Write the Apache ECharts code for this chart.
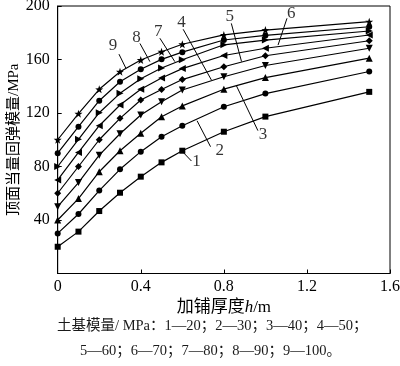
<!DOCTYPE html>
<html>
<head>
<meta charset="utf-8">
<script src="https://cdn.jsdelivr.net/npm/echarts@6/dist/echarts.min.js"></script>
<style>html,body{margin:0;padding:0;background:#fff;}#c{width:400px;height:366px;}</style>
</head>
<body>
<div id="c"></div>
<script>
// thickness h (m)
const thickness = [0, 0.1, 0.2, 0.3, 0.4, 0.5, 0.6, 0.8, 1.0, 1.5];
// equivalent modulus (MPa) for subgrade modulus 20..100
const m20  = [20, 31.3, 46.7, 60.4, 72.4, 83.1, 91.8, 106, 117.3, 135.8];
const m30  = [30, 44.5, 62, 77.9, 91.1, 102.3, 110.5, 124.7, 134.5, 151];
const m40  = [40, 56, 76.1, 91.8, 104.8, 117.2, 125.3, 137.8, 146.5, 161];
const m50  = [50, 68, 88.5, 104.5, 118.5, 128.4, 137.2, 147.1, 155.5, 168.4];
const m60  = [60, 80, 100, 116, 129.7, 137.6, 145, 154.6, 162.8, 174];
const m70  = [70, 90.5, 110.5, 126, 137.7, 146.2, 153.2, 163, 168.4, 178.3];
const m80  = [80, 100.3, 120.2, 134.7, 145.6, 153.6, 159.8, 171, 174.5, 181.3];
const m90  = [90, 109.8, 129.2, 143.4, 152.7, 160.1, 165.5, 174.6, 178, 184.5];
const m100 = [100, 119.5, 137.7, 150.9, 159.6, 165.8, 171.4, 178.4, 182, 188.3];
const seriesNames = ['1', '2', '3', '4', '5', '6', '7', '8', '9'];
const xTicks = [0, 0.4, 0.8, 1.2, 1.6];
const yTicks = [0, 40, 80, 120, 160, 200];

// curve labels and their leader lines (data coordinates)
const labelNames = ['9', '8', '7', '4', '5', '6', '3', '2', '1'];
const labelPos = [[0.266,170.8],[0.38,176.6],[0.484,180.8],[0.596,187.5],[0.829,192],[1.125,194],[0.989,103.6],[0.78,91.8],[0.668,83.6]];
const leaderStart = [[0.295,164],[0.396,172],[0.492,175.9],[0.604,182.6],[0.836,187],[1.104,190.8],[0.964,106.8],[0.736,94.8],[0.644,84.1]];
const leaderEnd = [[0.328,153.6],[0.444,158.4],[0.564,158.4],[0.74,144.7],[0.885,158.5],[1.061,170.8],[0.861,140.2],[0.671,114.2],[0.601,91.1]];

const allValues = [m20, m30, m40, m50, m60, m70, m80, m90, m100];
const star = 'path://M0,-10 L2.35,-3.24 L9.51,-3.09 L3.8,1.24 L5.88,8.09 L0,4 L-5.88,8.09 L-3.8,1.24 L-9.51,-3.09 L-2.35,-3.24 Z';
const symbols = [
  {s:'rect', size:6, rot:0},
  {s:'circle', size:6, rot:0},
  {s:'triangle', size:7, rot:0},
  {s:'triangle', size:7, rot:180},
  {s:'diamond', size:7, rot:0},
  {s:'triangle', size:7, rot:90},
  {s:'triangle', size:7, rot:-90},
  {s:'circle', size:6, rot:0},
  {s:star, size:8, rot:0}
];
const serif = "'Liberation Serif','Noto Sans CJK SC',serif";

const series = allValues.map((vals, i) => ({
  type: 'line',
  name: seriesNames[i],
  data: thickness.map((x, j) => [x, vals[j]]),
  symbol: symbols[i].s,
  symbolSize: symbols[i].size,
  symbolRotate: symbols[i].rot,
  showAllSymbol: true,
  lineStyle: {color: '#000', width: 1.2},
  itemStyle: {color: '#000'},
  silent: true,
  animation: false,
  z: 3
}));

labelNames.forEach((n, i) => {
  series.push({
    type: 'line',
    data: [leaderStart[i], leaderEnd[i]],
    showSymbol: false,
    symbol: 'none',
    lineStyle: {color: '#000', width: 1},
    silent: true,
    animation: false,
    z: 2
  });
});
series.push({
  type: 'scatter',
  data: labelPos.map((p, i) => ({value: p, name: labelNames[i]})),
  symbolSize: 0,
  label: {show: true, position: 'inside', formatter: '{b}', color: '#000', fontFamily: serif, fontSize: 17},
  silent: true,
  animation: false
});

const chart = echarts.init(document.getElementById('c'));
chart.setOption({
  animation: false,
  grid: {left: 57.7, right: 10, top: 6, bottom: 92.5, show: true, borderColor: '#000', borderWidth: 1, outerBoundsMode: 'none', containLabel: false},
  xAxis: {
    type: 'value', min: xTicks[0], max: xTicks[xTicks.length - 1], interval: 0.4,
    axisLine: {lineStyle: {color: '#000', width: 1}},
    axisTick: {inside: true, length: 4, lineStyle: {color: '#000'}},
    splitLine: {show: false},
    axisLabel: {color: '#000', fontFamily: serif, fontSize: 16, margin: 5, formatter: v => String(+v.toFixed(1))},
    name: '{a|加铺厚度}{i|h}{a|/m}',
    nameLocation: 'middle', nameGap: 26, nameMoveOverlap: false,
    nameTextStyle: {rich: {a: {fontFamily: serif, fontSize: 17, color: '#000'}, i: {fontFamily: serif, fontSize: 17, fontStyle: 'italic', color: '#000'}}}
  },
  yAxis: {
    type: 'value', min: yTicks[0], max: yTicks[yTicks.length - 1], interval: 40,
    axisLine: {show: true, lineStyle: {color: '#000', width: 1}},
    axisTick: {show: true, inside: true, length: 4, lineStyle: {color: '#000'}},
    splitLine: {show: false},
    axisLabel: {color: '#000', fontFamily: serif, fontSize: 16, margin: 8, formatter: v => v === 0 ? '' : String(v)},
    name: '顶面当量回弹模量/MPa',
    nameLocation: 'middle', nameGap: 36, nameRotate: 90, nameMoveOverlap: false,
    nameTextStyle: {fontFamily: serif, fontSize: 15, color: '#000'}
  },
  graphic: [
    {type: 'text', left: 57, top: 319, style: {text: '土基模量/ MPa：1—20；2—30；3—40；4—50；', font: "14.5px 'Liberation Serif','Noto Sans CJK SC',serif", fill: '#1a1a1a'}},
    {type: 'text', left: 80, top: 344, style: {text: '5—60；6—70；7—80；8—90；9—100。', font: "14.5px 'Liberation Serif','Noto Sans CJK SC',serif", fill: '#1a1a1a'}}
  ],
  series: series
});
</script>
</body>
</html>
